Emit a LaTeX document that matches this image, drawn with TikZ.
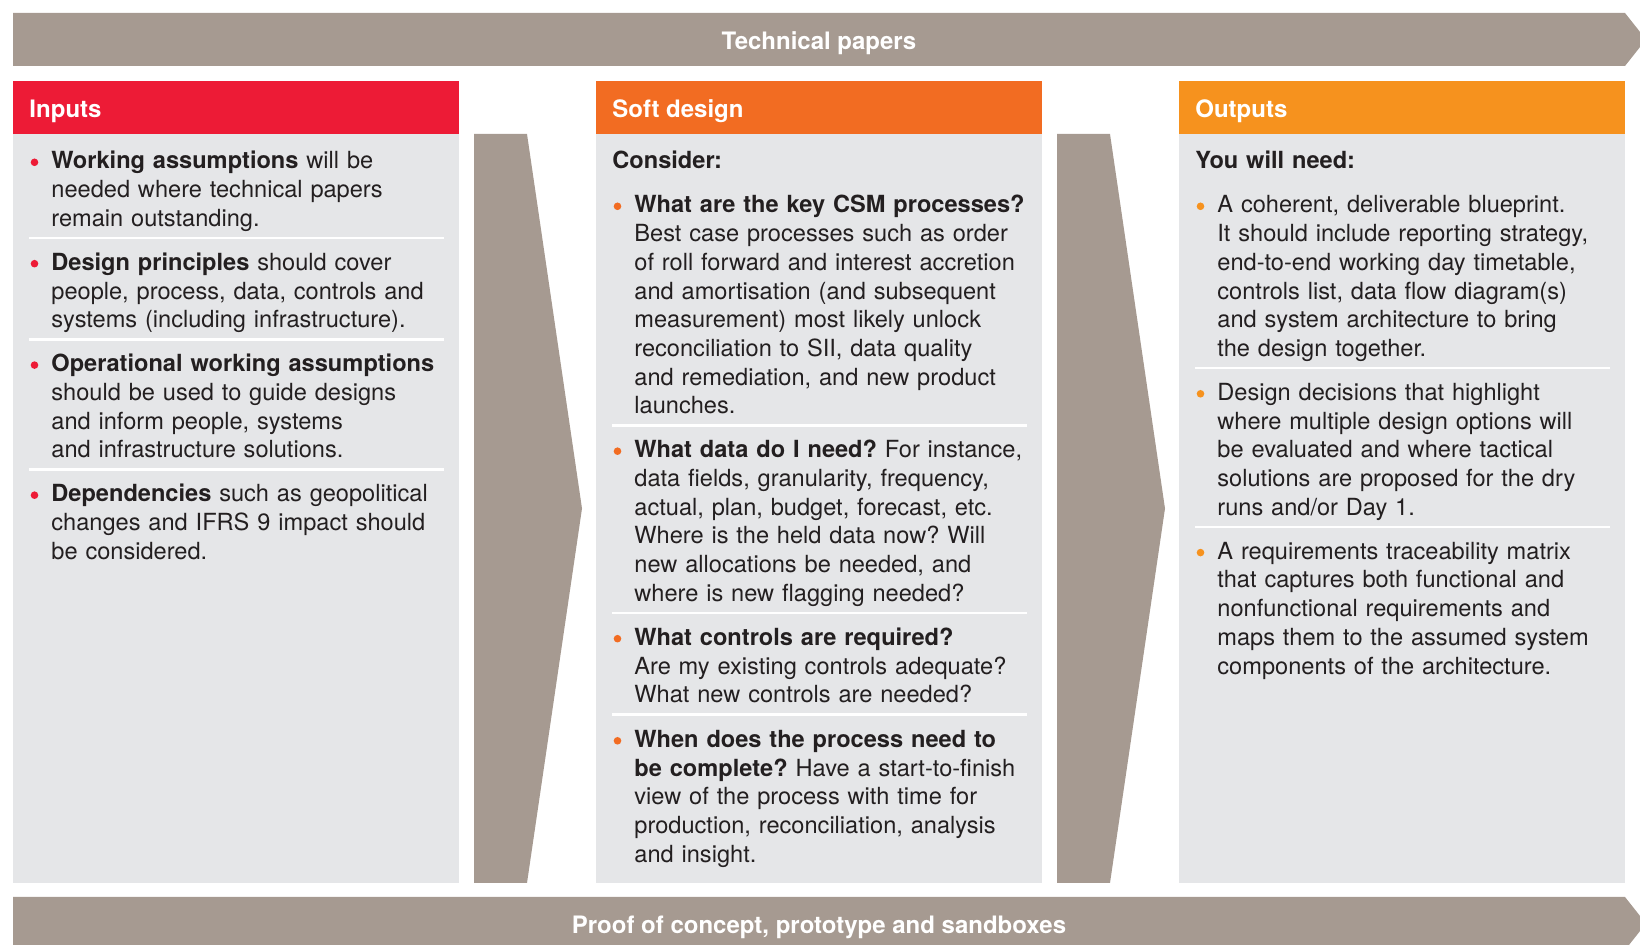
\documentclass[tikz,border=0pt]{standalone}
\usepackage{fontspec}
\setmainfont{TeX Gyre Heros}
\frenchspacing

\definecolor{banner}{HTML}{A69A91}
\definecolor{panel}{HTML}{E5E6E8}
\definecolor{inred}{HTML}{ED1B36}
\definecolor{softorange}{HTML}{F26C22}
\definecolor{outorange}{HTML}{F6921E}
\definecolor{ink}{HTML}{231F20}

\begin{document}
\begin{tikzpicture}[x=0.5pt,y=-0.5pt,
    txt/.style={anchor=base west,inner sep=0pt,align=left,text width=205pt,text=ink,font=\fontsize{11.8pt}{14.35pt}\selectfont},
    head/.style={anchor=base west,inner sep=0pt,text=white,font=\fontsize{12pt}{14.35pt}\selectfont\bfseries},
    divider/.style={white,line width=1.1pt}]

    \useasboundingbox (0,0) rectangle (1640,945);

    \fill[banner] (13,13)--(1625,13)--(1646,39.5)--(1625,66)--(13,66)--cycle;
    \fill[banner] (13,897)--(1625,897)--(1646,923.5)--(1625,950)--(13,950)--cycle;
    \node[anchor=base,inner sep=0pt,text=white,font=\fontsize{12pt}{14.35pt}\selectfont\bfseries] (techpapers) at (819,50) {Technical papers};
    \node[anchor=base,inner sep=0pt,text=white,font=\fontsize{12pt}{14.35pt}\selectfont\bfseries] (proof) at (819,934) {Proof of concept, prototype and sandboxes};

    \fill[banner] (474,134)--(527,134)--(582,508.5)--(527,883)--(474,883)--cycle;
    \fill[banner] (1057,134)--(1110,134)--(1165,508.5)--(1110,883)--(1057,883)--cycle;

    % inputs
    \fill[inred] (13,81) rectangle (459,134);
    \fill[panel] (13,134) rectangle (459,883);
    \node[head] (hdin) at (29,117.7) {Inputs};

    \fill[inred] (34.5,162.3) circle (1.9pt);
    \node[txt] (in1) at (51,169) {{\bfseries Working assumptions} will be\\needed where technical papers\\remain outstanding.};
    \draw[divider] (29,238)--(444,238);
    \fill[inred] (34.5,263.7) circle (1.9pt);
    \node[txt] (in2) at (51,270.4) {{\bfseries Design principles} should cover\\people, process, data, controls and\\systems (including infrastructure).};
    \draw[divider] (29,339.5)--(444,339.5);
    \fill[inred] (34.5,365.1) circle (1.9pt);
    \node[txt] (in3) at (51,371.8) {{\bfseries Operational working assumptions}\\should be used to guide designs\\and inform people, systems\\and infrastructure solutions.};
    \draw[divider] (29,469.6)--(444,469.6);
    \fill[inred] (34.5,495.2) circle (1.9pt);
    \node[txt] (in4) at (51,501.9) {{\bfseries Dependencies} such as geopolitical\\changes and IFRS 9 impact should\\be considered.};

    % soft design
    \fill[softorange] (596,81) rectangle (1042,134);
    \fill[panel] (596,134) rectangle (1042,883);
    \node[head] (hdsoft) at (612,117.7) {Soft design};
    \node[txt,font=\fontsize{11.8pt}{14.35pt}\selectfont\bfseries] (sd0) at (612,169) {Consider:};

    \fill[softorange] (617.5,206.3) circle (1.9pt);
    \node[txt] (sd1) at (634,213) {{\bfseries What are the key CSM processes?}\\Best case processes such as order\\of roll forward and interest accretion\\and amortisation (and subsequent\\measurement) most likely unlock\\reconciliation to SII, data quality\\and remediation, and new product\\launches.};
    \draw[divider] (612,425.6)--(1027,425.6);
    \fill[softorange] (617.5,451.2) circle (1.9pt);
    \node[txt] (sd2) at (634,457.9) {{\bfseries What data do I need?} For instance,\\data fields, granularity, frequency,\\actual, plan, budget, forecast, etc.\\Where is the held data now? Will\\new allocations be needed, and\\where is new flagging needed?};
    \draw[divider] (612,613.1)--(1027,613.1);
    \fill[softorange] (617.5,638.7) circle (1.9pt);
    \node[txt] (sd3) at (634,645.4) {{\bfseries What controls are required?}\\Are my existing controls adequate?\\What new controls are needed?};
    \draw[divider] (612,714.5)--(1027,714.5);
    \fill[softorange] (617.5,740.8) circle (1.9pt);
    \node[txt] (sd4) at (634,747.5) {{\bfseries When does the process need to}\\{\bfseries be complete?} Have a start-to-finish\\view of the process with time for\\production, reconciliation, analysis\\and insight.};

    % outputs
    \fill[outorange] (1179,81) rectangle (1625,134);
    \fill[panel] (1179,134) rectangle (1625,883);
    \node[head] (hdout) at (1195,117.7) {Outputs};
    \node[txt,font=\fontsize{11.8pt}{14.35pt}\selectfont\bfseries] (out0) at (1195,169) {You will need:};

    \fill[outorange] (1200.5,206.3) circle (1.9pt);
    \node[txt] (out1) at (1217,213) {A coherent, deliverable blueprint.\\It should include reporting strategy,\\end-to-end working day timetable,\\controls list, data flow diagram(s)\\and system architecture to bring\\the design together.};
    \draw[divider] (1195,368.2)--(1610,368.2);
    \fill[outorange] (1200.5,393.8) circle (1.9pt);
    \node[txt] (out2) at (1217,400.5) {Design decisions that highlight\\where multiple design options will\\be evaluated and where tactical\\solutions are proposed for the dry\\runs and/or Day 1.};
    \draw[divider] (1195,527)--(1610,527);
    \fill[outorange] (1200.5,552.6) circle (1.9pt);
    \node[txt] (out3) at (1217,559.3) {A requirements traceability matrix\\that captures both functional and\\nonfunctional requirements and\\maps them to the assumed system\\components of the architecture.};

\end{tikzpicture}
\end{document}
